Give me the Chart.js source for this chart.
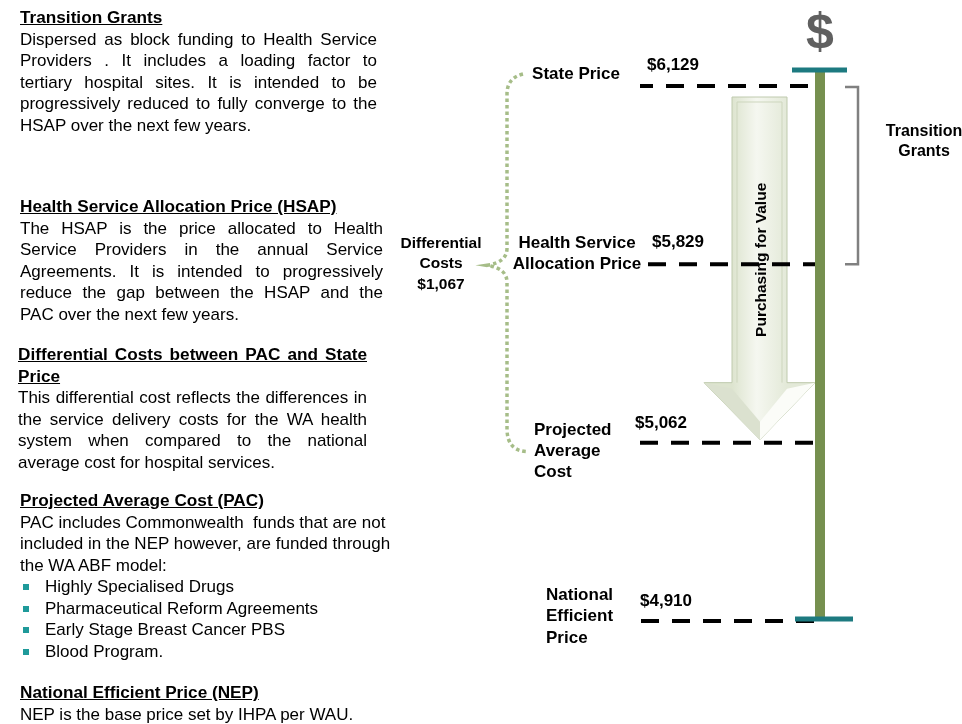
<!DOCTYPE html>
<html>
<head>
<meta charset="utf-8">
<script src="https://cdn.jsdelivr.net/npm/chart.js@4"></script>
<style>
  body { margin: 0; background: #fff; }
  #wrap { position: relative; width: 962px; height: 724px; overflow: hidden; }
  #chart { position: absolute; left: 0; top: 0; }
  .blk { position: absolute; font: 17px 'Liberation Sans', Arial, sans-serif; line-height: 21.5px; color: #000; }
  .h { font-weight: bold; text-decoration: underline; font-size: 17.2px; }
  .j { text-align: justify; text-align-last: justify; }
  .b { position: relative; padding-left: 25px; }
  .b::before { content: ''; position: absolute; left: 3px; top: 8px; width: 6px; height: 6px; background: #1f9a9a; }
</style>
</head>
<body>
<div id="wrap">
  <canvas id="chart" width="962" height="724"></canvas>

  <div class="blk" style="left:20px; top:7px; width:357px;">
    <div class="h">Transition Grants</div>
    <div class="j">Dispersed as block funding to Health Service</div>
    <div class="j">Providers . It includes a loading factor to</div>
    <div class="j">tertiary hospital sites. It is intended to be</div>
    <div class="j">progressively reduced to fully converge to the</div>
    <div>HSAP over the next few years.</div>
  </div>

  <div class="blk" style="left:20px; top:196px; width:363px;">
    <div class="h">Health Service Allocation Price (HSAP)</div>
    <div class="j">The HSAP is the price allocated to Health</div>
    <div class="j">Service Providers in the annual Service</div>
    <div class="j">Agreements. It is intended to progressively</div>
    <div class="j">reduce the gap between the HSAP and the</div>
    <div>PAC over the next few years.</div>
  </div>

  <div class="blk" style="left:18px; top:344px; width:349px;">
    <div class="h j">Differential Costs between PAC and State</div>
    <div class="h">Price</div>
    <div class="j">This differential cost reflects the differences in</div>
    <div class="j">the service delivery costs for the WA health</div>
    <div class="j">system when compared to the national</div>
    <div>average cost for hospital services.</div>
  </div>

  <div class="blk" style="left:20px; top:490px; width:380px;">
    <div class="h">Projected Average Cost (PAC)</div>
    <div>PAC includes Commonwealth&nbsp; funds that are not</div>
    <div>included in the NEP however, are funded through</div>
    <div>the WA ABF model:</div>
    <div class="b">Highly Specialised Drugs</div>
    <div class="b">Pharmaceutical Reform Agreements</div>
    <div class="b">Early Stage Breast Cancer PBS</div>
    <div class="b">Blood Program.</div>
  </div>

  <div class="blk" style="left:20px; top:682px; width:380px;">
    <div class="h">National Efficient Price (NEP)</div>
    <div>NEP is the base price set by IHPA per WAU.</div>
  </div>
</div>

<script>
// price levels, top to bottom
var levels = ["State Price", "Health Service Allocation Price", "Projected Average Cost", "National Efficient Price"];
var prices = [6129, 5829, 5062, 4910];
var levelLines = [["State Price"], ["Health Service", "Allocation Price"], ["Projected", "Average", "Cost"], ["National", "Efficient", "Price"]];
var differential = 1067;
var arrowText = "Purchasing for Value";
var grantsText = ["Transition", "Grants"];
var diffText = ["Differential", "Costs"];

var FONT = "'Liberation Sans', Arial, sans-serif";
var dashPhase = [5, 23, 0, 30];

function money(v) {
  return "$" + v.toLocaleString("en-US");
}

// arrow sits behind the dashed lines
var arrowPlugin = {
  id: "arrow",
  beforeDatasetsDraw: function (chart) {
    var ctx = chart.ctx;
    var y = chart.scales.y;
    var top = y.getPixelForValue(0) + 11;
    var tip = y.getPixelForValue(2) - 3;
    var headTop = tip - 57;
    var l = 732, r = 787, cx = 760, hl = 704, hr = 815;

    ctx.save();
    var g = ctx.createLinearGradient(l, 0, r, 0);
    g.addColorStop(0, "#dde4cf");
    g.addColorStop(0.45, "#f5f7f0");
    g.addColorStop(1, "#e3e9d8");
    ctx.beginPath();
    ctx.moveTo(l, top);
    ctx.lineTo(r, top);
    ctx.lineTo(r, headTop);
    ctx.lineTo(hr, headTop);
    ctx.lineTo(cx, tip);
    ctx.lineTo(hl, headTop);
    ctx.lineTo(l, headTop);
    ctx.closePath();
    ctx.fillStyle = g;
    ctx.fill();
    ctx.strokeStyle = "#bfcaae";
    ctx.lineWidth = 1;
    ctx.stroke();

    // head shading
    ctx.fillStyle = "#dbe1cf";
    ctx.beginPath();
    ctx.moveTo(hl, headTop);
    ctx.lineTo(cx, tip);
    ctx.lineTo(cx, tip - 18);
    ctx.lineTo(l, headTop + 6);
    ctx.closePath();
    ctx.fill();
    ctx.fillStyle = "#fbfcf8";
    ctx.beginPath();
    ctx.moveTo(hr, headTop);
    ctx.lineTo(cx, tip);
    ctx.lineTo(cx, tip - 18);
    ctx.lineTo(r, headTop + 6);
    ctx.closePath();
    ctx.fill();

    // bevel edges
    ctx.strokeStyle = "#cdd6bd";
    ctx.beginPath();
    ctx.moveTo(l + 5, top + 5); ctx.lineTo(l + 5, headTop);
    ctx.moveTo(r - 5, top + 5); ctx.lineTo(r - 5, headTop);
    ctx.moveTo(l + 5, top + 5); ctx.lineTo(r - 5, top + 5);
    ctx.stroke();

    ctx.translate(762, (top + headTop) / 2 + 20);
    ctx.rotate(-Math.PI / 2);
    ctx.fillStyle = "#000";
    ctx.font = "bold 15.5px " + FONT;
    ctx.textAlign = "center";
    ctx.textBaseline = "middle";
    ctx.fillText(arrowText, 0, 0);
    ctx.restore();
  }
};

var decorPlugin = {
  id: "decor",
  afterDatasetsDraw: function (chart) {
    var ctx = chart.ctx;
    var y = chart.scales.y;
    var p = levels.map(function (lv, i) { return y.getPixelForValue(i); });
    var right = chart.chartArea.right;

    ctx.save();
    // green scale bar
    ctx.fillStyle = "#76904f";
    ctx.fillRect(right, p[0] - 16, 10, p[3] - p[0] + 14);
    // teal caps
    ctx.strokeStyle = "#1d7a80";
    ctx.lineWidth = 5;
    ctx.beginPath();
    ctx.moveTo(792, p[0] - 16); ctx.lineTo(847, p[0] - 16);
    ctx.moveTo(795, p[3] - 2); ctx.lineTo(853, p[3] - 2);
    ctx.stroke();

    // dollar sign
    ctx.fillStyle = "#606060";
    ctx.font = "bold 50px " + FONT;
    ctx.textAlign = "center";
    ctx.textBaseline = "alphabetic";
    ctx.fillText("$", 820, 48);

    // grey bracket for transition grants
    ctx.strokeStyle = "#808080";
    ctx.lineWidth = 2.5;
    ctx.beginPath();
    ctx.moveTo(845, p[0] + 1);
    ctx.lineTo(858, p[0] + 1);
    ctx.lineTo(858, p[1]);
    ctx.lineTo(845, p[1]);
    ctx.stroke();

    ctx.fillStyle = "#000";
    ctx.font = "bold 16px " + FONT;
    ctx.textBaseline = "middle";
    ctx.fillText(grantsText[0], 924, p[0] + 46);
    ctx.fillText(grantsText[1], 924, p[0] + 66);

    // dotted brace for differential costs
    ctx.strokeStyle = "#a6bd88";
    ctx.lineWidth = 3.5;
    ctx.setLineDash([3.5, 3]);
    ctx.beginPath();
    ctx.moveTo(523, p[0] - 12);
    ctx.quadraticCurveTo(507, p[0] - 8, 507, p[0] + 8);
    ctx.lineTo(507, p[1] - 16);
    ctx.quadraticCurveTo(507, p[1] - 2, 487, p[1] + 1);
    ctx.quadraticCurveTo(507, p[1] + 4, 507, p[1] + 18);
    ctx.lineTo(507, p[2] - 14);
    ctx.quadraticCurveTo(507, p[2] + 8, 527, p[2] + 9);
    ctx.stroke();
    ctx.setLineDash([]);

    ctx.fillStyle = "#000";
    ctx.font = "bold 15.5px " + FONT;
    ctx.textAlign = "center";
    ctx.fillText(diffText[0], 441, p[1] - 21);
    ctx.fillText(diffText[1], 441, p[1] - 1);
    ctx.fillText(money(differential), 441, p[1] + 20);

    // level names and prices
    ctx.font = "bold 17px " + FONT;
    // State Price
    ctx.textAlign = "right";
    ctx.fillText(levelLines[0][0], 620, p[0] - 12);
    // Health Service Allocation Price
    ctx.textAlign = "center";
    ctx.fillText(levelLines[1][0], 577, p[1] - 21);
    ctx.fillText(levelLines[1][1], 577, p[1]);
    // Projected Average Cost
    ctx.textAlign = "left";
    levelLines[2].forEach(function (t, k) { ctx.fillText(t, 534, p[2] - 12 + k * 21); });
    // National Efficient Price
    levelLines[3].forEach(function (t, k) { ctx.fillText(t, 546, p[3] - 26 + k * 21.5); });

    var priceX = [647, 652, 635, 640];
    var priceDy = [-21, -22, -19, -20];
    prices.forEach(function (v, i) { ctx.fillText(money(v), priceX[i], p[i] + priceDy[i]); });
    ctx.restore();
  }
};

new Chart(document.getElementById("chart"), {
  type: "line",
  data: {
    datasets: levels.map(function (lv, i) {
      return {
        label: lv,
        data: [{ x: 0, y: lv }, { x: 1, y: lv }],
        borderColor: "#000",
        borderWidth: 4,
        borderDash: [18, 13],
        borderDashOffset: dashPhase[i],
        borderCapStyle: "butt",
        pointRadius: 0,
        fill: false,
        clip: false
      };
    })
  },
  options: {
    responsive: false,
    animation: false,
    layout: { padding: { left: 640, right: 147, top: 86, bottom: 103 } },
    scales: {
      x: { type: "linear", min: 0, max: 1, display: false },
      y: { type: "category", labels: levels, offset: false, display: false }
    },
    plugins: { legend: { display: false }, tooltip: { enabled: false } }
  },
  plugins: [arrowPlugin, decorPlugin]
});
</script>
</body>
</html>
